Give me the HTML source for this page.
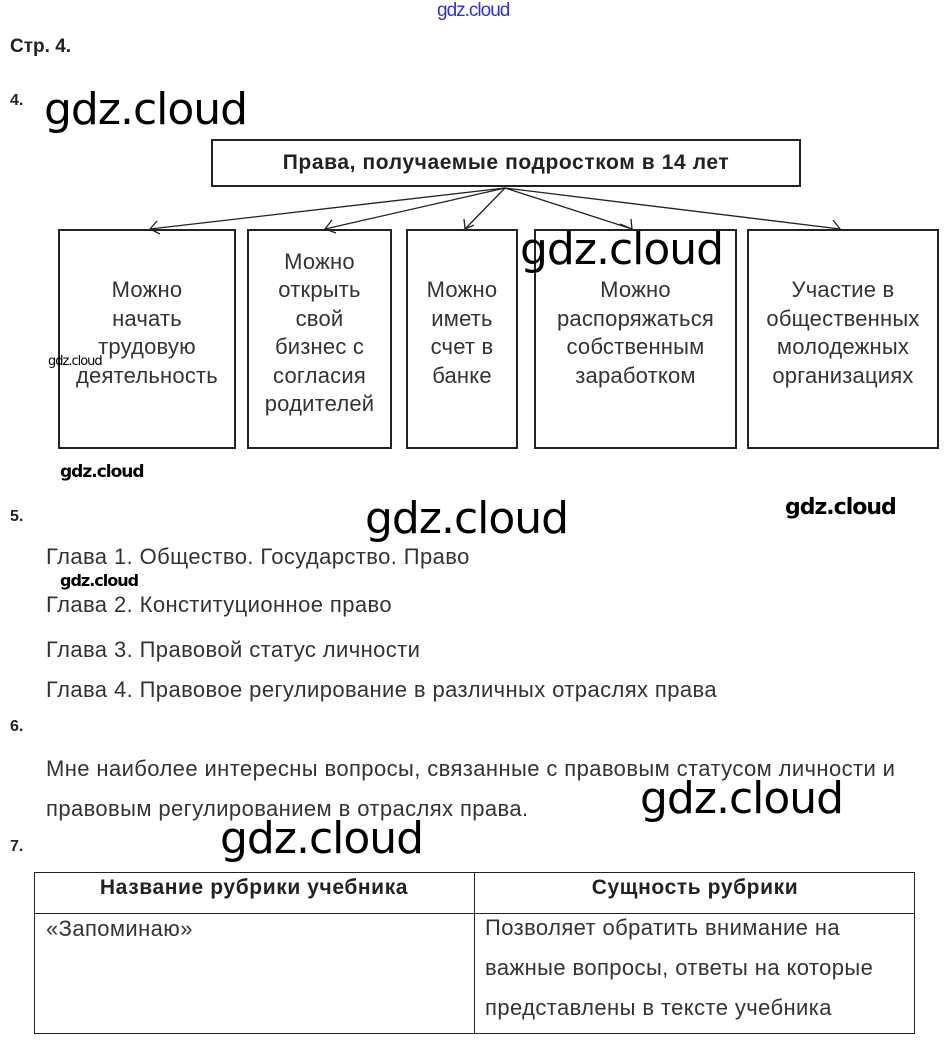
<!DOCTYPE html>
<html><head><meta charset="utf-8"><style>
body{margin:0;background:#fff;width:951px;height:1047px;position:relative;overflow:hidden;font-family:"Liberation Sans",sans-serif;color:#222}
.a{position:absolute;white-space:nowrap}
.box{position:absolute;border:2px solid #222;box-sizing:border-box;display:flex;align-items:center;justify-content:center;text-align:center;font-size:22px;letter-spacing:0.2px;line-height:28.5px;color:#333;padding-bottom:12px}
.wm{position:absolute;font-family:"DejaVu Sans","Liberation Sans",sans-serif;color:#000;white-space:nowrap;letter-spacing:-1px}
.t{font-size:22px;letter-spacing:0.4px;color:#333}
</style></head><body>
<div class="a" style="left:437px;top:0px;font-size:19px;color:#33c;letter-spacing:-1px">gdz.cloud</div>
<div class="a" style="left:10px;top:36px;font-size:19px;font-weight:bold">Стр. 4.</div>
<div class="a" style="left:10px;top:92px;font-size:16px;font-weight:bold">4.</div>
<div class="wm" style="left:44px;top:84px;font-size:44px">gdz.cloud</div>

<div class="box" style="left:211px;top:139px;width:590px;height:48px;font-weight:bold;font-size:21px;letter-spacing:0.6px;color:#222;padding-bottom:0">Права, получаемые подростком в 14 лет</div>

<svg class="a" style="left:0;top:0" width="951" height="460">
<g stroke="#222" stroke-width="1.3" fill="none">
<line x1="505" y1="188" x2="150" y2="229"/>
<line x1="505" y1="188" x2="325" y2="229"/>
<line x1="505" y1="188" x2="465" y2="229"/>
<line x1="505" y1="188" x2="632" y2="229"/>
<line x1="505" y1="188" x2="840" y2="229"/>
<polyline points="157,221 150,229 160,234"/>
<polyline points="332,220 325,229 336,233"/>
<polyline points="464,219 465,229 474,225"/>
<polyline points="620,224 632,229 631,219"/>
<polyline points="828,230 840,229 833,220"/>
</g></svg>

<div class="box" style="left:58px;top:229px;width:178px;height:220px">Можно<br>начать<br>трудовую<br>деятельность</div>
<div class="box" style="left:247px;top:229px;width:145px;height:220px">Можно<br>открыть<br>свой<br>бизнес с<br>согласия<br>родителей</div>
<div class="box" style="left:406px;top:229px;width:112px;height:220px">Можно<br>иметь<br>счет в<br>банке</div>
<div class="box" style="left:534px;top:229px;width:203px;height:220px">Можно<br>распоряжаться<br>собственным<br>заработком</div>
<div class="box" style="left:747px;top:229px;width:192px;height:220px">Участие в<br>общественных<br>молодежных<br>организациях</div>

<div class="wm" style="left:520px;top:224px;font-size:44px">gdz.cloud</div>
<div class="wm" style="left:48px;top:354px;font-size:13px">gdz.cloud</div>
<div class="wm" style="left:60px;top:462px;font-size:17px;font-weight:bold">gdz.cloud</div>
<div class="wm" style="left:785px;top:495px;font-size:22px;font-weight:bold">gdz.cloud</div>

<div class="a" style="left:10px;top:508px;font-size:16px;font-weight:bold">5.</div>
<div class="wm" style="left:365px;top:493px;font-size:44px">gdz.cloud</div>
<div class="a t" style="left:46px;top:544px">Глава 1. Общество. Государство. Право</div>
<div class="wm" style="left:60px;top:571px;font-size:16px;font-weight:bold">gdz.cloud</div>
<div class="a t" style="left:46px;top:592px">Глава 2. Конституционное право</div>
<div class="a t" style="left:46px;top:637px">Глава 3. Правовой статус личности</div>
<div class="a t" style="left:46px;top:677px">Глава 4. Правовое регулирование в различных отраслях права</div>

<div class="a" style="left:10px;top:718px;font-size:16px;font-weight:bold">6.</div>
<div class="a t" style="left:46px;top:756px">Мне наиболее интересны вопросы, связанные с правовым статусом личности и</div>
<div class="a t" style="left:46px;top:796px">правовым регулированием в отраслях права.</div>
<div class="wm" style="left:640px;top:773px;font-size:44px">gdz.cloud</div>

<div class="a" style="left:10px;top:838px;font-size:16px;font-weight:bold">7.</div>
<div class="wm" style="left:220px;top:813px;font-size:44px">gdz.cloud</div>

<div class="a" style="left:34px;top:872px;width:881px;height:162px;border:1px solid #222;box-sizing:border-box"></div>
<div class="a" style="left:474px;top:872px;width:1px;height:162px;background:#222"></div>
<div class="a" style="left:34px;top:913px;width:881px;height:1px;background:#222"></div>
<div class="a" style="left:34px;top:876px;width:440px;text-align:center;font-size:21px;letter-spacing:0.6px;font-weight:bold">Название рубрики учебника</div>
<div class="a" style="left:475px;top:876px;width:440px;text-align:center;font-size:21px;letter-spacing:0.6px;font-weight:bold">Сущность рубрики</div>
<div class="a t" style="left:46px;top:916px">«Запоминаю»</div>
<div class="a t" style="left:485px;top:908px;line-height:40px">Позволяет обратить внимание на<br>важные вопросы, ответы на которые<br>представлены в тексте учебника</div>
</body></html>
